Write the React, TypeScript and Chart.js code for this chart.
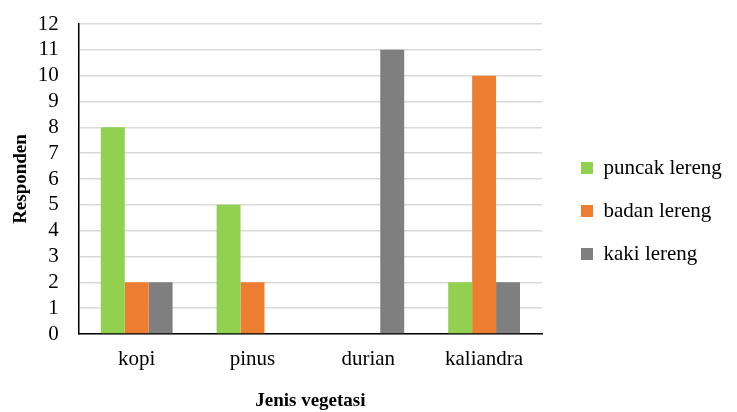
import React, { useEffect, useRef } from "react";
import { Chart, registerables } from "chart.js";

Chart.register(...registerables);

const categories = ["kopi", "pinus", "durian", "kaliandra"];
const puncakLereng = [8, 5, 0, 2];
const badanLereng = [2, 2, 0, 10];
const kakiLereng = [2, 0, 11, 2];
const seriesNames = ["puncak lereng", "badan lereng", "kaki lereng"];
const seriesColors = ["#92D050", "#ED7D31", "#7F7F7F"];
const yTitle = "Responden";
const xTitle = "Jenis vegetasi";

const FONT = "'Liberation Serif', 'DejaVu Serif', serif";

const legendPlacePlugin = {
  id: "legendPlace",
  afterInit(chart: any) {
    const lg = chart.legend;
    if (!lg) return;
    const orig = lg.fit;
    lg.fit = function () {
      orig.call(this);
      this.width = 195;
    };
  },
  afterLayout(chart: any) {
    const lg = chart.legend;
    if (!lg) return;
    lg.left += 17;
    lg.right = Math.max(lg.right, lg.left + 150);
    lg.top += 5;
    lg.bottom += 5;
  },
};

export default function App() {
  const ref = useRef<HTMLCanvasElement>(null);
  useEffect(() => {
    if (!ref.current) return;
    const values = [puncakLereng, badanLereng, kakiLereng];
    const chart = new Chart(ref.current, {
      type: "bar",
      data: {
        labels: categories,
        datasets: values.map((v, i) => ({
          label: seriesNames[i],
          data: v,
          backgroundColor: seriesColors[i],
          borderWidth: 0,
          categoryPercentage: 0.62,
          barPercentage: 1,
        })),
      },
      plugins: [legendPlacePlugin],
      options: {
        animation: false,
        responsive: false,
        maintainAspectRatio: false,
        layout: { padding: { left: 10, right: 0, top: 0, bottom: 0 } },
        plugins: {
          tooltip: { enabled: false },
          legend: {
            position: "right",
            labels: {
              boxWidth: 12,
              boxHeight: 12,
              padding: 22,
              color: "#000",
              font: { family: FONT, size: 21 },
            },
          },
        },
        scales: {
          x: {
            grid: { display: false, drawTicks: false },
            border: { color: "#000", width: 1.5 },
            ticks: { color: "#000", padding: 13, font: { family: FONT, size: 21 } },
            title: {
              display: true,
              text: xTitle,
              color: "#000",
              font: { family: FONT, size: 19, weight: "bold" },
              padding: { top: 4, bottom: 0 },
            },
          },
          y: {
            min: 0,
            max: 12,
            afterFit: (scale: any) => {
              scale.width = scale.width - 19;
              scale.paddingTop = 24;
            },
            ticks: { stepSize: 1, autoSkip: false, color: "#000", padding: 20, font: { family: FONT, size: 21 } },
            grid: { color: "#D9D9D9", lineWidth: 1.5, drawTicks: false },
            border: { color: "#000", width: 1.5 },
            title: {
              display: true,
              text: yTitle,
              color: "#000",
              font: { family: FONT, size: 19, weight: "bold" },
              padding: { top: 0, bottom: 4 },
            },
          },
        },
      },
    });
    return () => chart.destroy();
  }, []);
  return (
    <div style={{ position: "absolute", left: 0, top: 0, width: 737, height: 412, background: "#fff" }}>
      <canvas ref={ref} width={737} height={412} style={{ width: 737, height: 412 }} />
    </div>
  );
}
